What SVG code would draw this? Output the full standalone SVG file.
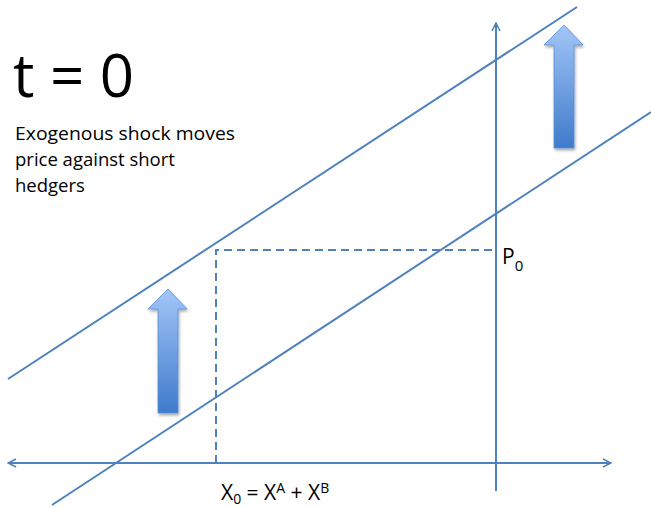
<svg xmlns="http://www.w3.org/2000/svg" width="651" height="508" viewBox="0 0 651 508">
<defs>
<marker id="open" viewBox="0 0 10 10" refX="9" refY="5" markerWidth="10" markerHeight="10" markerUnits="userSpaceOnUse" orient="auto-start-reverse">
<path d="M1,1 L9,5 L1,9" fill="none" stroke="#4F81BD" stroke-width="1.5"/>
</marker>
<linearGradient id="g" x1="0" y1="0" x2="0" y2="1">
<stop offset="0" stop-color="#A3C6F8"/>
<stop offset="1" stop-color="#3E7BCB"/>
</linearGradient>
<filter id="sh" x="-30%" y="-10%" width="160%" height="130%">
<feGaussianBlur in="SourceAlpha" stdDeviation="1.5"/>
<feOffset dx="1" dy="2" result="b"/>
<feComponentTransfer><feFuncA type="linear" slope="0.35"/></feComponentTransfer>
<feMerge><feMergeNode/><feMergeNode in="SourceGraphic"/></feMerge>
</filter>
</defs>
<style>
.ln{stroke:#4F81BD;stroke-width:2;fill:none}
.ds{stroke:#4F81BD;stroke-width:2;fill:none;stroke-dasharray:8,5}
.tx{font-family:"Open Sans","Liberation Sans",sans-serif;fill:#000}
.arr{fill:url(#g);stroke:#5A8FD6;stroke-width:0.8;filter:url(#sh)}
</style>
<rect width="651" height="508" fill="#fff"/>
<g id="connectors">
<line class="ln" x1="8" y1="463" x2="611" y2="463" marker-start="url(#open)" marker-end="url(#open)"/>
<line class="ln" x1="496" y1="491" x2="496" y2="23" marker-end="url(#open)"/>
<line class="ln" x1="8" y1="379" x2="577" y2="7"/>
<line class="ln" x1="52" y1="505" x2="651" y2="112"/>
<polyline class="ds" points="216,463 216,250 496,250"/>
</g>
<g id="arrow-left">
<path class="arr" d="M168,289 L187,309 L178,309 L178,413 L158,413 L158,309 L148,309 Z"/>
</g>
<g id="arrow-right">
<path class="arr" d="M564,25 L583,45 L574,45 L574,148 L554,148 L554,45 L544,45 Z"/>
</g>
<g id="title">
<text class="tx" x="13" y="97" font-size="60">t = 0</text>
</g>
<g id="caption">
<text class="tx" x="15" y="140" font-size="18.5" textLength="220" lengthAdjust="spacingAndGlyphs">Exogenous shock moves</text>
<text class="tx" x="15" y="166" font-size="18.5">price against short</text>
<text class="tx" x="15" y="192" font-size="18.5">hedgers</text>
</g>
<g id="p0">
<text class="tx" x="502" y="264" font-size="21">P<tspan font-size="15" dy="7">0</tspan></text>
</g>
<g id="x0">
<text class="tx" x="221" y="500" font-size="21">X<tspan font-size="14" dy="4">0</tspan><tspan dy="-4"> = X</tspan><tspan font-size="14" dy="-7">A</tspan><tspan dy="7"> + X</tspan><tspan font-size="14" dy="-7">B</tspan></text>
</g>
</svg>
